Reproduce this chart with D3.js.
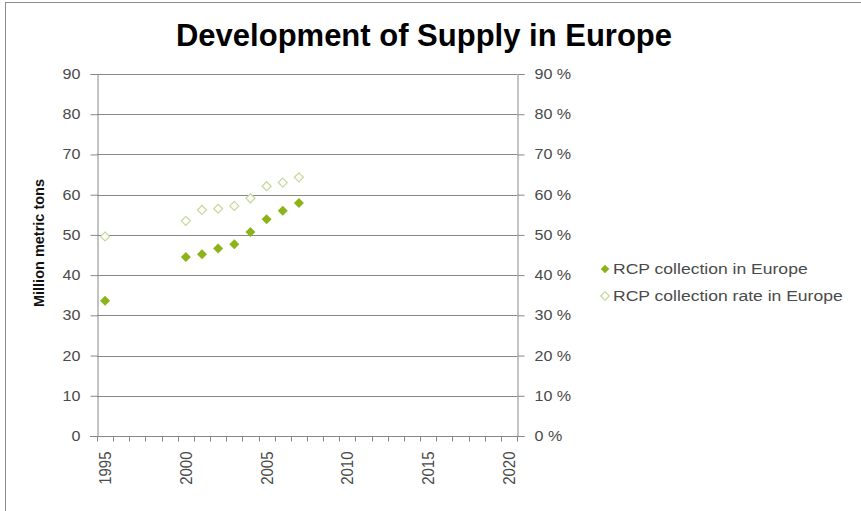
<!DOCTYPE html>
<html><head><meta charset="utf-8">
<script src="https://cdn.jsdelivr.net/npm/d3@7"></script>
<style>body{margin:0;background:#fff}svg{display:block}text{font-family:Arial,"Liberation Sans",sans-serif}</style>
</head><body>
<svg id="c" width="861" height="511"></svg>
<script>
const years = d3.range(1995, 2021);
const tickYears = [1995, 2000, 2005, 2010, 2015, 2020];
const collectionYears = [1995, 2000, 2001, 2002, 2003, 2004, 2005, 2006, 2007];
const collection = [33.6, 44.5, 45.2, 46.6, 47.7, 50.7, 53.9, 56.0, 57.9];
const rate = [0.496, 0.535, 0.562, 0.565, 0.572, 0.591, 0.621, 0.630, 0.643];
const leftTicks = [0,10,20,30,40,50,60,70,80,90];
const rightTicks = [0,0.1,0.2,0.3,0.4,0.5,0.6,0.7,0.8,0.9];
const seriesNames = ["RCP collection in Europe", "RCP collection rate in Europe"];

const svg = d3.select("#c");
const L = 97, R = 517, T = 74, B = 436;
svg.append("rect").attr("x",5.5).attr("y",2.5).attr("width",900).attr("height",600)
  .attr("fill","none").attr("stroke","#8c8c8c");

const x = d3.scaleBand().domain(years).range([L, R]);
const y = d3.scaleLinear().domain([0, 90]).range([B, T]);
const y2 = d3.scaleLinear().domain([0, 0.9]).range([B, T]);

// gridlines
svg.append("g").selectAll("line").data(leftTicks.filter(d=>d>0)).join("line")
  .attr("x1",L).attr("x2",R).attr("y1",d=>Math.round(y(d))+0.5).attr("y2",d=>Math.round(y(d))+0.5)
  .attr("stroke","#888").attr("stroke-width",1);

const lab = "#4a4a4a";
function stretch(sel, s){
  sel.each(function(){
    const t = d3.select(this);
    const x0 = +t.attr("x") || 0;
    t.attr("x",0).attr("transform",`translate(${x0},0) scale(${s},1)`);
  });
}
const gL = svg.append("g").attr("transform",`translate(${L+0.5},0)`)
  .call(d3.axisLeft(y).tickValues(leftTicks).tickSize(7).tickPadding(10).tickFormat(d3.format("d")));
const gR = svg.append("g").attr("transform",`translate(${R+0.5},0)`)
  .call(d3.axisRight(y2).tickValues(rightTicks).tickSize(7).tickPadding(10).tickFormat(d=>Math.round(d*100)+" %"));
[gL,gR].forEach(g=>{
  g.select(".domain").attr("stroke","#888");
  g.selectAll(".tick line").attr("stroke","#888");
  g.selectAll("text").attr("fill",lab).style("font-size","14px").style("font-family","Arial");
  stretch(g.selectAll("text"), 1.15);
});

// x axis
const gx = svg.append("g").attr("transform",`translate(0,${B+0.5})`);
gx.append("line").attr("x1",L-7).attr("x2",R+7).attr("stroke","#888");
gx.selectAll("line.t").data(years.concat([2021])).join("line").attr("class","t")
  .attr("x1",(d,i)=>Math.round(L + i*x.step())+0.5).attr("x2",(d,i)=>Math.round(L + i*x.step())+0.5)
  .attr("y1",0).attr("y2",5).attr("stroke","#888");
gx.selectAll("text").data(tickYears).join("text")
  .attr("transform",d=>`translate(${x(d)+x.bandwidth()/2+6},15) rotate(-90) scale(1,1.1)`)
  .attr("text-anchor","end").attr("fill",lab).style("font-size","15px").text(d=>d);

// y title
svg.append("text").attr("transform","translate(44,243) rotate(-90)").attr("text-anchor","middle")
  .style("font-size","14.5px").style("font-weight","bold").attr("fill","#111").text("Million metric tons");

// title
svg.append("text").attr("x",424).attr("y",46).attr("text-anchor","middle")
  .style("font-size","31px").style("font-weight","bold").attr("fill","#000").text("Development of Supply in Europe");

const diamond = s => `M0,${-s}L${s},0L0,${s}L${-s},0Z`;
const fillCol = "#8cb419", hollowCol = "#c6d89a";
svg.append("g").selectAll("path").data(collectionYears).join("path")
  .attr("d",diamond(5)).attr("fill",fillCol)
  .attr("transform",(d,i)=>`translate(${x(d)+x.bandwidth()/2},${y(collection[i])})`);
svg.append("g").selectAll("path").data(collectionYears).join("path")
  .attr("d",diamond(4.5)).attr("fill","#fff").attr("stroke",hollowCol).attr("stroke-width",1.2)
  .attr("transform",(d,i)=>`translate(${x(d)+x.bandwidth()/2},${y2(rate[i])})`);

// legend
const lg = svg.append("g");
seriesNames.forEach((n,i)=>{
  const yy = 269 + i*27;
  lg.append("path").attr("d",diamond(4.3)).attr("transform",`translate(${605},${yy})`)
    .attr("fill", i===0?fillCol:"#fff").attr("stroke", i===0?"none":hollowCol).attr("stroke-width",1.2);
  lg.append("text").attr("transform",`translate(613,${yy+5}) scale(1.17,1)`).attr("fill",lab)
    .style("font-size","15px").text(n);
});
</script>
</body></html>
